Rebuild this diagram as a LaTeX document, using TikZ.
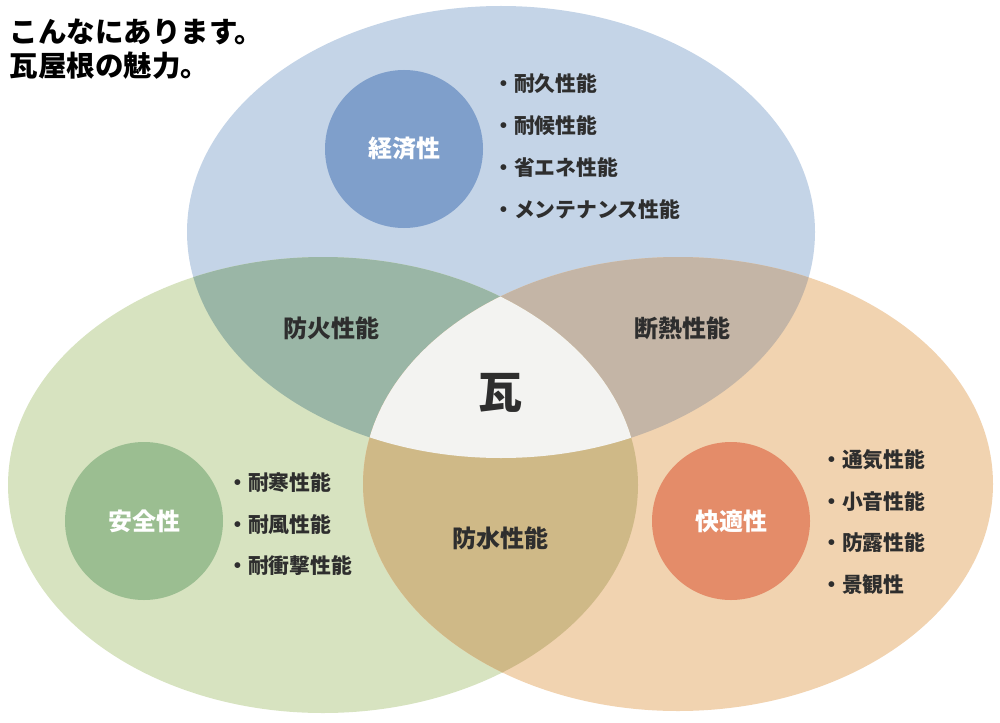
\documentclass[tikz,border=0pt]{standalone}
\usepackage{fontspec}
\usepackage{tikz}
\usetikzlibrary{positioning}
\newfontfamily\jpfont{Noto Sans CJK JP}

\definecolor{keizaiset}{HTML}{C4D4E7}
\definecolor{anzenset}{HTML}{D7E3C0}
\definecolor{kaitekiset}{HTML}{F1D3B0}
\definecolor{bokaset}{HTML}{9AB6A6}
\definecolor{dannetsuset}{HTML}{C4B5A6}
\definecolor{bosuiset}{HTML}{CFB987}
\definecolor{kawaraset}{HTML}{F3F3F1}
\definecolor{keizaidot}{HTML}{7F9FCB}
\definecolor{anzendot}{HTML}{9BBE91}
\definecolor{kaitekidot}{HTML}{E48C69}
\definecolor{textgray}{HTML}{2E2E2E}

\begin{document}
\begin{tikzpicture}[
            x=1pt, y=-1pt,
            title/.style={anchor=west, font=\jpfont\bfseries\fontsize{28.5}{32}\selectfont, text=black}, % Heading top left
            dot/.style={circle, minimum size=158pt, inner sep=0pt, text=white, font=\jpfont\bfseries\fontsize{24}{28}\selectfont}, % Big circle
            item/.style={anchor=west, inner sep=0pt, text=textgray, font=\jpfont\bfseries\fontsize{20.8}{24}\selectfont}, % Bullet line
            overlap/.style={text=textgray, font=\jpfont\bfseries\fontsize{24}{28}\selectfont} % Label in a lens
            ]

                \useasboundingbox (0,0) rectangle (1000,722);

                % Three sets
                \fill[keizaiset] (501,232) ellipse (314 and 226);
                \fill[anzenset] (323,485) ellipse (315 and 228);
                \fill[kaitekiset] (678,484) ellipse (315 and 227);

                % Pairwise overlaps
                \begin{scope}
                    \clip (501,232) ellipse (314 and 226);
                    \fill[bokaset] (323,485) ellipse (315 and 228);
                    \fill[dannetsuset] (678,484) ellipse (315 and 227);
                \end{scope}
                \begin{scope}
                    \clip (323,485) ellipse (315 and 228);
                    \fill[bosuiset] (678,484) ellipse (315 and 227);
                \end{scope}

                % Centre, all three
                \begin{scope}
                    \clip (501,232) ellipse (314 and 226);
                    \clip (323,485) ellipse (315 and 228);
                    \fill[kawaraset] (678,484) ellipse (315 and 227);
                \end{scope}

                \node[title] (head1) at (6,32) {こんなにあります。};
                \node[title, below=0pt of head1.south west, anchor=north west] (head2) {瓦屋根の魅力。};

                \node[dot, fill=keizaidot] (keizai) at (404,149) {経済性};
                \node[dot, fill=anzendot] (anzen) at (144,521) {安全性};
                \node[dot, fill=kaitekidot] (kaiteki) at (731,521) {快適性};

                \node[overlap] (boka) at (331,328) {防火性能};
                \node[overlap] (dannetsu) at (682,328) {断熱性能};
                \node[overlap] (bosui) at (500,538) {防水性能};
                \node[text=textgray, font=\jpfont\bfseries\fontsize{44}{48}\selectfont] (kawara) at (500,393) {瓦};

                \node[item] (k1) at (493,84) {・耐久性能};
                \node[item] (k2) at (493,126) {・耐候性能};
                \node[item] (k3) at (493,168) {・省エネ性能};
                \node[item] (k4) at (493,210) {・メンテナンス性能};

                \node[item] (a1) at (227,483) {・耐寒性能};
                \node[item] (a2) at (227,525) {・耐風性能};
                \node[item] (a3) at (227,566) {・耐衝撃性能};

                \node[item] (t1) at (821,460) {・通気性能};
                \node[item] (t2) at (821,502) {・小音性能};
                \node[item] (t3) at (821,543) {・防露性能};
                \node[item] (t4) at (821,585) {・景観性};

            \end{tikzpicture}
\end{document}
